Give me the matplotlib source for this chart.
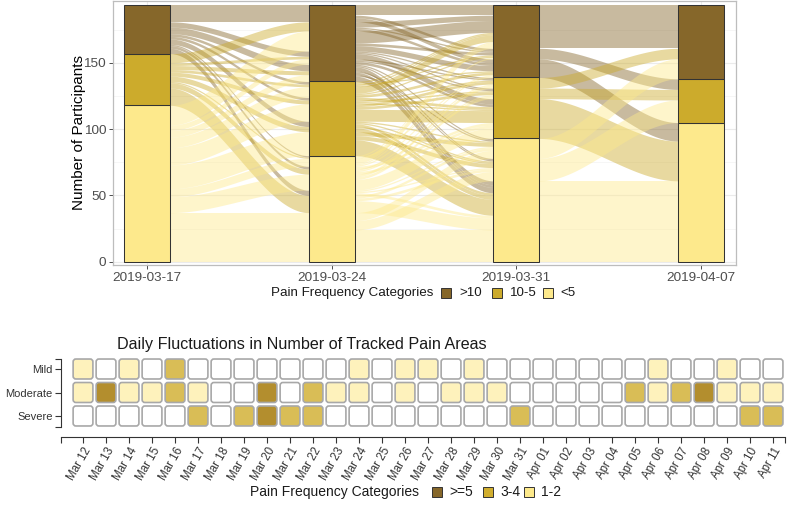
import numpy as np
import matplotlib.pyplot as plt
from matplotlib.patches import Rectangle, FancyBboxPatch

plt.rcParams['font.family'] = ['Liberation Sans', 'DejaVu Sans']

# ---- top panel data ----
dates = ['2019-03-17', '2019-03-24', '2019-03-31', '2019-04-07']
categories = ['>10', '10-5', '<5']          # stacked top -> bottom
cat_colors = ['#86672a', '#ccab2c', '#fde98c']

# participants in each category per week (>10, 10-5, <5)
counts = [[37, 39, 118],
          [58, 56, 80],
          [55, 46, 93],
          [56, 33, 105]]

# week-to-week transitions (rows: from, cols: to)
trans_1 = [[22, 8, 7], [12, 9, 18], [24, 39, 55]]
trans_2 = [[35, 10, 13], [12, 18, 26], [8, 18, 54]]
trans_3 = [[33, 8, 14], [8, 8, 30], [15, 17, 61]]

# ---- bottom panel data ----
days = ['Mar 12', 'Mar 13', 'Mar 14', 'Mar 15', 'Mar 16', 'Mar 17', 'Mar 18',
        'Mar 19', 'Mar 20', 'Mar 21', 'Mar 22', 'Mar 23', 'Mar 24', 'Mar 25',
        'Mar 26', 'Mar 27', 'Mar 28', 'Mar 29', 'Mar 30', 'Mar 31', 'Apr 01',
        'Apr 02', 'Apr 03', 'Apr 04', 'Apr 05', 'Apr 06', 'Apr 07', 'Apr 08',
        'Apr 09', 'Apr 10', 'Apr 11']
severity = ['Severe', 'Moderate', 'Mild']
# 0 = none, 1 = 1-2, 2 = 3-4, 3 = >=5
mild = [1, 0, 1, 0, 2, 0, 0, 0, 0, 0, 0, 0, 1, 0, 1, 1, 0, 1, 0, 0, 0, 0, 0, 0, 0, 1, 0, 0, 1, 0, 0]
moderate = [1, 3, 1, 1, 2, 1, 0, 0, 3, 0, 2, 1, 1, 0, 1, 0, 1, 1, 1, 0, 0, 0, 0, 0, 2, 1, 2, 3, 1, 1, 1]
severe = [0, 0, 0, 0, 0, 2, 0, 2, 3, 2, 2, 0, 0, 0, 0, 0, 0, 0, 0, 2, 0, 0, 0, 0, 0, 0, 0, 0, 0, 2, 2]
heat_labels = ['>=5', '3-4', '1-2']
heat_legend_colors = ['#86672a', '#d1ae2e', '#fde98a']
cell_colors = {0: '#ffffff', 1: '#fef2bc', 2: '#d9bd56', 3: '#b38e2e'}

W, H = 800, 507


def fx(px):
    return px / W


def fy(py):
    return 1 - py / H


def spread(cnts):
    # evenly interleave destination labels
    items = []
    for d, c in enumerate(cnts):
        for k in range(c):
            items.append(((k + 0.5) / c, d))
    items.sort()
    return [d for _, d in items]


# build participant paths from the transition tables
paths = []
for a in range(3):
    for b in range(3):
        for _ in range(trans_1[a][b]):
            paths.append([a, b])
for trans in (trans_2, trans_3):
    step = len(paths[0]) - 1
    for s in range(3):
        grp = [p for p in paths if p[step] == s]
        grp.sort(key=lambda p: tuple(p[:step][::-1]))
        for p, d in zip(grp, spread(trans[s])):
            p.append(d)

n = len(paths)
orders = [lambda p: (p[0], p[1], p[2], p[3]),
          lambda p: (p[1], p[2], p[0], p[3]),
          lambda p: (p[2], p[3], p[1], p[0]),
          lambda p: (p[3], p[2], p[1], p[0])]
pos = np.zeros((n, 4))
for ax_i in range(4):
    idx = sorted(range(n), key=lambda k: (orders[ax_i](paths[k]), k))
    for r, k in enumerate(idx):
        pos[k, ax_i] = n - r   # top of lode

fig = plt.figure(figsize=(8, 5.07), dpi=100)
ax = fig.add_axes([fx(113), fy(265), fx(736 - 113), (265 - 1) / H])

bw = 0.25
xs = np.arange(4)
t = np.linspace(0, 1, 60)
s_curve = 3 * t ** 2 - 2 * t ** 3
for i in range(3):
    x0, x1 = xs[i] + bw / 2, xs[i + 1] - bw / 2
    xx = x0 + (x1 - x0) * t
    idx = sorted(range(n), key=lambda k: -pos[k, i])
    runs = []
    for k in idx:
        lt, rt = pos[k, i], pos[k, i + 1]
        c = paths[k][i]
        if runs and runs[-1][4] == c and runs[-1][1] == lt and runs[-1][3] == rt:
            runs[-1][1] = lt - 1
            runs[-1][3] = rt - 1
        else:
            runs.append([lt, lt - 1, rt, rt - 1, c])
    for lt, lb, rt, rb, c in runs:
        top = lt + (rt - lt) * s_curve
        bot = lb + (rb - lb) * s_curve
        ax.fill_between(xx, bot, top, color=cat_colors[c], alpha=0.45,
                        lw=0, zorder=2)

for i in range(4):
    bottom = 0
    for c in (2, 1, 0):
        ax.bar(xs[i], counts[i][c], bottom=bottom, width=bw,
               color=cat_colors[c], edgecolor='#333333', lw=0.75, zorder=3)
        bottom += counts[i][c]

ax.set_xlim(-0.184, 3.19)
ax.set_ylim(-2.5, 196.7)
ax.set_xticks(xs)
ax.set_xticklabels(dates)
ax.set_yticks([0, 50, 100, 150])
ax.set_yticks([25, 75, 125, 175], minor=True)
ax.grid(True, which='major', color='#ebebeb', lw=0.8, zorder=0)
ax.grid(True, which='minor', axis='y', color='#f3f3f3', lw=0.5, zorder=0)
ax.set_axisbelow(True)
ax.tick_params(axis='both', which='major', labelsize=9.7, labelcolor='#4d4d4d',
               color='#4d4d4d', length=3, width=0.7, pad=2)
ax.tick_params(axis='y', which='minor', length=0)
for sp in ax.spines.values():
    sp.set_color('#bdbdbd')
    sp.set_linewidth(0.9)
ax.set_ylabel('Number of Participants', fontsize=11, labelpad=-1.5)

# top legend
fig.text(fx(271), fy(293), 'Pain Frequency Categories', fontsize=9.6,
         va='center', ha='left', color='#1a1a1a')
for bx, tx, lab, col in zip([441, 492, 543], [459, 510, 560], categories, cat_colors):
    fig.patches.append(Rectangle((fx(bx), fy(298)), fx(10), 10 / H,
                                 transform=fig.transFigure, facecolor=col,
                                 edgecolor='#333333', lw=0.7))
    fig.text(fx(tx), fy(293), lab, fontsize=9.6, va='center', ha='left',
             color='#1a1a1a')

# ---- bottom heatmap ----
hx = fig.add_axes([fx(61), fy(437), fx(785 - 61), (437 - 357) / H])
rows = [severe, moderate, mild]
for r, vals in enumerate(rows):
    for i, v in enumerate(vals):
        hx.add_patch(FancyBboxPatch((i - 0.43, r - 0.425), 0.86, 0.85,
                                    boxstyle='round,pad=0,rounding_size=0.12',
                                    mutation_aspect=1.0,
                                    facecolor=cell_colors[v], edgecolor='#a8a8a8',
                                    lw=1.2))
hx.set_xlim(-0.957, 30.52)
hx.set_ylim(-0.894, 2.511)
for side in ('top', 'right'):
    hx.spines[side].set_visible(False)
hx.spines['left'].set_bounds(-0.468, 2.426)
hx.spines['left'].set_color('#333333')
hx.spines['bottom'].set_color('#333333')
hx.set_yticks([0, 1, 2])
hx.set_yticklabels(severity)
hx.set_yticks([-0.468, 2.426], minor=True)
hx.set_xticks(np.arange(len(days)))
hx.set_xticklabels(days, rotation=60, ha='right', va='top',
                   rotation_mode='anchor')
hx.set_xticks([-0.957, 30.52], minor=True)
hx.tick_params(axis='y', which='both', labelsize=8, labelcolor='#333333',
               color='#333333', length=4, width=0.8, pad=2)
hx.tick_params(axis='x', which='both', labelsize=8.3, labelcolor='#333333',
               color='#333333', length=4, width=0.8, pad=2)
hx.tick_params(which='minor', labelbottom=False, labelleft=False)

fig.text(fx(117), fy(345), 'Daily Fluctuations in Number of Tracked Pain Areas',
         fontsize=11.6, va='center', ha='left', color='#1a1a1a')

# bottom legend
fig.text(fx(250), fy(492), 'Pain Frequency Categories', fontsize=10,
         va='center', ha='left', color='#1a1a1a')
for bx, tx, lab, col in zip([432, 483, 524], [449, 500, 541], heat_labels,
                            heat_legend_colors):
    fig.patches.append(Rectangle((fx(bx), fy(497)), fx(10), 10 / H,
                                 transform=fig.transFigure, facecolor=col,
                                 edgecolor='#333333', lw=0.7))
    fig.text(fx(tx), fy(492), lab, fontsize=10, va='center', ha='left',
             color='#1a1a1a')

fig.savefig('out.png', dpi=100)
